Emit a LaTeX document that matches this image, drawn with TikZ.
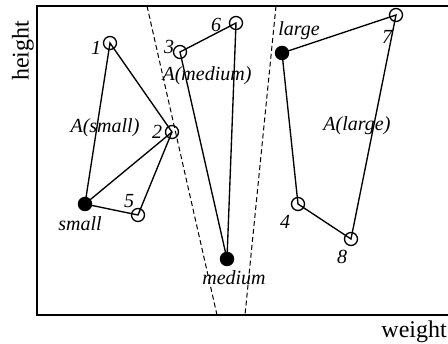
\documentclass[tikz,border=0pt]{standalone}
\usepackage{fontspec}
\setmainfont{Liberation Serif}
\usetikzlibrary{positioning}
\begin{document}
\begin{tikzpicture}[x=1pt,y=-1pt,
 obs/.style={draw,circle,line width=1.3pt,inner sep=0pt,minimum size=13pt},
 proto/.style={fill,circle,inner sep=0pt,minimum size=14.5pt},
 lab/.style={font=\fontsize{20}{24}\selectfont\itshape,inner sep=0pt},
 axlab/.style={font=\fontsize{24}{28}\selectfont,inner sep=0pt},
 edge/.style={line width=1.35pt},
 split/.style={line width=1pt,dash pattern=on 5pt off 3pt}]
\useasboundingbox (0,0) rectangle (448,344);
% frame and axis labels
\draw[line width=1.5pt] (448,6) coordinate (tr) -- (37,6) coordinate (tl) -- (37,315) coordinate (bl) -- (448,315) coordinate (br);
\node[axlab,rotate=90] (ylab) at (23,51) {height};
\node[axlab,anchor=base east] (xlab) at (447,338) {weight};
% class boundaries
\coordinate (s1a) at (147,6); \coordinate (s1b) at (217,315);
\coordinate (s2a) at (276,6); \coordinate (s2b) at (245,315);
\draw[split] (s1a) -- (s1b);
\draw[split] (s2a) -- (s2b);
% prototypes
\node[proto] (small) at (85,204) {};
\node[proto] (medium) at (227,259) {};
\node[proto] (large) at (282,53) {};
% observations
\node[obs] (p1) at (110,43) {};
\node[obs] (p2) at (172,132) {};
\node[obs] (p3) at (180,52) {};
\node[obs] (p4) at (298,204) {};
\node[obs] (p5) at (138,215) {};
\node[obs] (p6) at (236,23) {};
\node[obs] (p7) at (396,15) {};
\node[obs] (p8) at (351,239) {};
% regions
\draw[edge] (small.center)--(p1.center)--(p2.center)--(small.center)--(p5.center)--(p2.center);
\draw[edge] (medium.center)--(p3.center)--(p6.center)--(medium.center);
\draw[edge] (large.center)--(p7.center)--(p8.center)--(p4.center)--(large.center);
% labels
\node[lab] (n1) at (96,48) {1};
\node[lab] (n2) at (157,132) {2};
\node[lab] (n3) at (169,47) {3};
\node[lab] (n4) at (285,222) {4};
\node[lab] (n5) at (129,201) {5};
\node[lab] (n6) at (216,25) {6};
\node[lab] (n7) at (387,37) {7};
\node[lab] (n8) at (342,257) {8};
\node[lab] (lsmall) at (80,224) {small};
\node[lab] (lmedium) at (234,278) {medium};
\node[lab] (llarge) at (299,31) {large};
\node[lab] (asmall) at (105,128) {A(small)};
\node[lab] (amedium) at (207,76) {A(medium)};
\node[lab] (alarge) at (357,126) {A(large)};
\end{tikzpicture}
\end{document}
